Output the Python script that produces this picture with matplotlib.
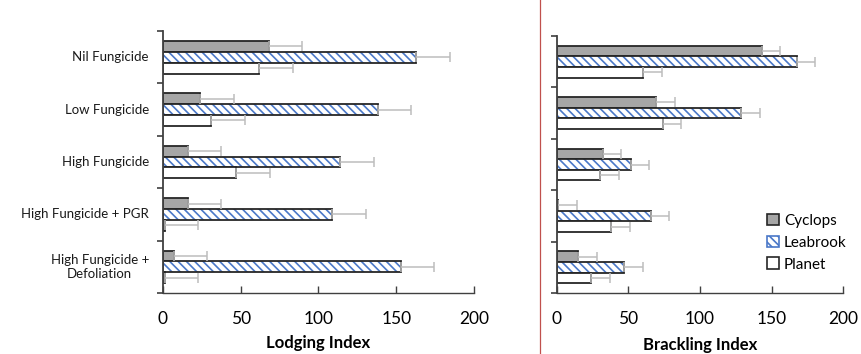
import numpy as np
import matplotlib
matplotlib.use("Agg")
import matplotlib.pyplot as plt
from matplotlib.lines import Line2D

plt.rcParams['font.family'] = ['Lato', 'DejaVu Sans']
plt.rcParams['hatch.linewidth'] = 1.2

# Treatments (top to bottom)
treatments = ['Nil Fungicide', 'Low Fungicide', 'High Fungicide',
              'High Fungicide + PGR', 'High Fungicide +\nDefoliation']
varieties = ['Cyclops', 'Leabrook', 'Planet']

# Lodging index values and error (positive only)
lodging_cyclops = [68, 24, 16, 16, 7]
lodging_leabrook = [163, 138, 114, 109, 153]
lodging_planet = [62, 31, 47, 1, 1]
lodging_err = [21.5, 21.5, 21.5, 21.5, 21.5]

# Brackling index values and error
brackling_cyclops = [143, 69.5, 32, 1.2, 15]
brackling_leabrook = [167.5, 128.5, 51.5, 65.5, 47]
brackling_planet = [60.5, 74, 30.5, 38, 24]
brackling_err = [13, 13, 13, 13, 13]

edge = '#262626'
gray_fill = '#a6a6a6'
hatch_col = '#4a78c8'
err_col = '#bdbdbd'


def draw_panel(ax, cyc, lea, pla, err):
    y = np.arange(len(treatments))
    h = 0.207
    e = [np.zeros(len(err)), err]
    kw = dict(ecolor=err_col, capsize=3.5, error_kw=dict(elinewidth=1.1, capthick=1.1))
    ax.barh(y - h, cyc, h, color=gray_fill, edgecolor=edge, linewidth=1.3,
            xerr=e, **kw)
    ax.barh(y, lea, h, color='white', edgecolor=hatch_col, linewidth=0,
            hatch='\\\\\\\\', xerr=e, **kw)
    ax.barh(y, lea, h, fill=False, edgecolor=edge, linewidth=1.3)
    ax.barh(y + h, pla, h, color='white', edgecolor=edge, linewidth=1.3,
            xerr=e, **kw)
    ax.set_xlim(0, 200)
    ax.set_ylim(len(treatments) - 0.5, -0.5)
    ax.set_xticks([0, 50, 100, 150, 200])
    ax.set_yticks(np.arange(len(treatments) + 1) - 0.5)
    ax.set_yticklabels([])
    ax.tick_params(axis='y', direction='out', length=4, width=1.2, color='#404040')
    ax.tick_params(axis='x', direction='in', length=5, width=1.0, color='#404040',
                   labelsize=12.5, pad=13)
    for s in ['top', 'right']:
        ax.spines[s].set_visible(False)
    ax.spines['left'].set_color('#404040')
    ax.spines['left'].set_linewidth(1.3)
    ax.spines['bottom'].set_color('#404040')
    ax.spines['bottom'].set_linewidth(1.0)


fig = plt.figure(figsize=(8.61, 3.54), dpi=100)
ax1 = fig.add_axes([0.1893, 0.1723, 0.3612, 0.740])
ax2 = fig.add_axes([0.6466, 0.1723, 0.3329, 0.726])

draw_panel(ax1, lodging_cyclops, lodging_leabrook, lodging_planet, lodging_err)
draw_panel(ax2, brackling_cyclops, brackling_leabrook, brackling_planet, brackling_err)

# category labels on the left panel
for i, t in enumerate(treatments):
    ax1.text(-0.045, i, t, transform=ax1.get_yaxis_transform(), ha='right',
             va='center', multialignment='center', fontsize=9.5, color='#1a1a1a')

ax1.set_xlabel('Lodging Index', fontsize=12, fontweight='bold', labelpad=6)
ax2.set_xlabel('Brackling Index', fontsize=12, fontweight='bold', labelpad=7)

# legend
handles = [
    plt.Rectangle((0, 0), 1, 1, facecolor=gray_fill, edgecolor=edge, linewidth=1.2),
    plt.Rectangle((0, 0), 1, 1, facecolor='white', edgecolor=hatch_col, hatch='\\\\\\\\', linewidth=1.2),
    plt.Rectangle((0, 0), 1, 1, facecolor='white', edgecolor=edge, linewidth=1.2),
]
ax2.legend(handles, varieties, loc='lower right', bbox_to_anchor=(1.06, 0.03),
           frameon=False, fontsize=11, handlelength=0.8, handleheight=0.8,
           handletextpad=0.3, labelspacing=0.5)

# red divider line
fig.add_artist(Line2D([540 / 861, 540 / 861], [0, 1], color='#c0504d', linewidth=0.9))

fig.savefig('out.png', dpi=100)
